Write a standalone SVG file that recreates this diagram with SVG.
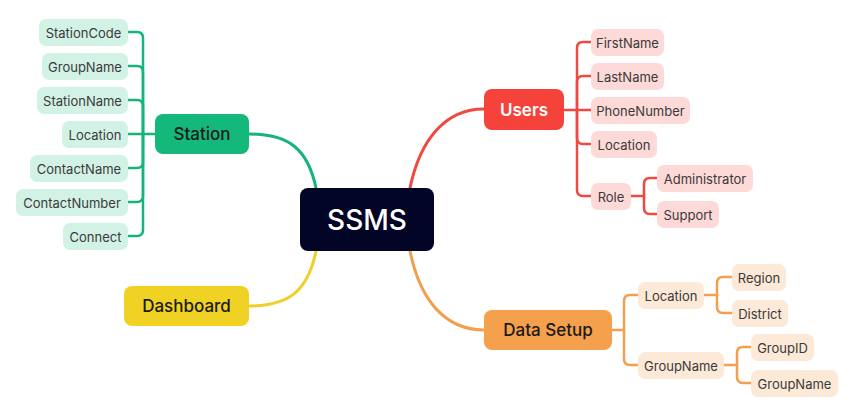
<svg xmlns="http://www.w3.org/2000/svg" width="853" height="408" viewBox="0 0 853 408">
<style>
text{font-family:"Inter","Lato","Noto Sans",sans-serif;dominant-baseline:central;text-anchor:middle}
.leaf{font-size:13px;fill:#3a3a3a}
.main{font-size:17px;font-weight:500;fill:#1a1a1a}
.g{fill:#d3f2e6}.r{fill:#fdd9d7}.o{fill:#fde9d7}
.cg{stroke:#15b47a}.cr{stroke:#ef4a40}.co{stroke:#f2a050}.cy{stroke:#efd02a}
#connectors path{fill:none;stroke-width:2.5;stroke-linecap:round}
#connectors path.big{stroke-width:3}
</style>
<rect width="853" height="408" fill="#fff"/>
<g id="connectors">
<path class="cg big" d="M249,134 C290,134 308,150 316,188"/>
<path class="cy big" d="M249,306 C290,306 308,290 316,251"/>
<path class="cr big" d="M484,109 C445,109 420,140 410,188"/>
<path class="co big" d="M484,330 C445,330 420,300 410,251"/>
<path class="cg" d="M155,134 H128"/>
<path class="cg" d="M143,134 V38 Q143,32 137,32 H128"/>
<path class="cg" d="M143,134 V72 Q143,66 137,66 H128"/>
<path class="cg" d="M143,134 V106 Q143,100 137,100 H128"/>
<path class="cg" d="M143,134 V162 Q143,168 137,168 H128"/>
<path class="cg" d="M143,134 V196 Q143,202 137,202 H128"/>
<path class="cg" d="M143,134 V230 Q143,236 137,236 H128"/>
<path class="cr" d="M564,110 H591"/>
<path class="cr" d="M577,110 V48 Q577,42 583,42 H591"/>
<path class="cr" d="M577,110 V82 Q577,76 583,76 H591"/>
<path class="cr" d="M577,110 V138 Q577,144 583,144 H591"/>
<path class="cr" d="M577,110 V190 Q577,196 583,196 H591"/>
<path class="cr" d="M631,196 H644"/>
<path class="cr" d="M644,196 V184 Q644,178 650,178 H657"/>
<path class="cr" d="M644,196 V208 Q644,214 650,214 H657"/>
<path class="co" d="M612,330 H624"/>
<path class="co" d="M624,330 V301 Q624,295 630,295 H638"/>
<path class="co" d="M624,330 V359 Q624,365 630,365 H638"/>
<path class="co" d="M704,295 H717"/>
<path class="co" d="M717,295 V283 Q717,277 723,277 H732"/>
<path class="co" d="M717,295 V307 Q717,313 723,313 H732"/>
<path class="co" d="M724,365 H737"/>
<path class="co" d="M737,365 V353 Q737,347 743,347 H751"/>
<path class="co" d="M737,365 V377 Q737,383 743,383 H751"/>
</g>
<g id="ssms"><rect x="300" y="188" width="134" height="63" rx="8" fill="#020526"/><text x="367" y="219.5" font-size="28" font-weight="500" fill="#fff">SSMS</text></g>
<g id="station"><rect x="155" y="114" width="94" height="40" rx="8" fill="#14b87a"/><text class="main" x="202" y="134">Station</text></g>
<g id="users"><rect x="484" y="89" width="80" height="41" rx="8" fill="#f5423a"/><text class="main" x="524" y="109.5" style="fill:#fff;font-weight:600">Users</text></g>
<g id="datasetup"><rect x="484" y="310" width="128" height="40" rx="8" fill="#f5a04c"/><text class="main" x="548" y="330">Data Setup</text></g>
<g id="dashboard"><rect x="124" y="286" width="125" height="40" rx="8" fill="#f0d224"/><text class="main" x="186.5" y="306">Dashboard</text></g>

<g id="stationcode"><rect class="g" x="39" y="19" width="89" height="27" rx="7"/><text class="leaf" x="83.5" y="32.5">StationCode</text></g>
<g id="groupname1"><rect class="g" x="42" y="53" width="86" height="27" rx="7"/><text class="leaf" x="85" y="66.5">GroupName</text></g>
<g id="stationname"><rect class="g" x="37" y="87" width="91" height="27" rx="7"/><text class="leaf" x="82.5" y="100.5">StationName</text></g>
<g id="location1"><rect class="g" x="62" y="121" width="66" height="27" rx="7"/><text class="leaf" x="95" y="134.5">Location</text></g>
<g id="contactname"><rect class="g" x="30" y="155" width="98" height="27" rx="7"/><text class="leaf" x="79" y="168.5">ContactName</text></g>
<g id="contactnumber"><rect class="g" x="16" y="189" width="112" height="27" rx="7"/><text class="leaf" x="72" y="202.5">ContactNumber</text></g>
<g id="connect"><rect class="g" x="63" y="223" width="65" height="27" rx="7"/><text class="leaf" x="95.5" y="236.5">Connect</text></g>

<g id="firstname"><rect class="r" x="591" y="29" width="73" height="27" rx="7"/><text class="leaf" x="627.5" y="42.5">FirstName</text></g>
<g id="lastname"><rect class="r" x="591" y="63" width="73" height="27" rx="7"/><text class="leaf" x="627.5" y="76.5">LastName</text></g>
<g id="phonenumber"><rect class="r" x="591" y="97" width="99" height="27" rx="7"/><text class="leaf" x="640.5" y="110.5">PhoneNumber</text></g>
<g id="location2"><rect class="r" x="591" y="131" width="66" height="27" rx="7"/><text class="leaf" x="624" y="144.5">Location</text></g>
<g id="role"><rect class="r" x="591" y="183" width="40" height="27" rx="7"/><text class="leaf" x="611" y="196.5">Role</text></g>
<g id="administrator"><rect class="r" x="657" y="165" width="96" height="27" rx="7"/><text class="leaf" x="705" y="178.5">Administrator</text></g>
<g id="support"><rect class="r" x="657" y="201" width="62" height="27" rx="7"/><text class="leaf" x="688" y="214.5">Support</text></g>

<g id="location3"><rect class="o" x="638" y="282" width="66" height="27" rx="7"/><text class="leaf" x="671" y="295.5">Location</text></g>
<g id="region"><rect class="o" x="732" y="264" width="54" height="27" rx="7"/><text class="leaf" x="759" y="277.5">Region</text></g>
<g id="district"><rect class="o" x="732" y="300" width="56" height="27" rx="7"/><text class="leaf" x="760" y="313.5">District</text></g>
<g id="groupname2"><rect class="o" x="638" y="352" width="86" height="27" rx="7"/><text class="leaf" x="681" y="365.5">GroupName</text></g>
<g id="groupid"><rect class="o" x="751" y="334" width="63" height="27" rx="7"/><text class="leaf" x="782.5" y="347.5">GroupID</text></g>
<g id="groupname3"><rect class="o" x="751" y="370" width="87" height="27" rx="7"/><text class="leaf" x="794.5" y="383.5">GroupName</text></g>
</svg>
